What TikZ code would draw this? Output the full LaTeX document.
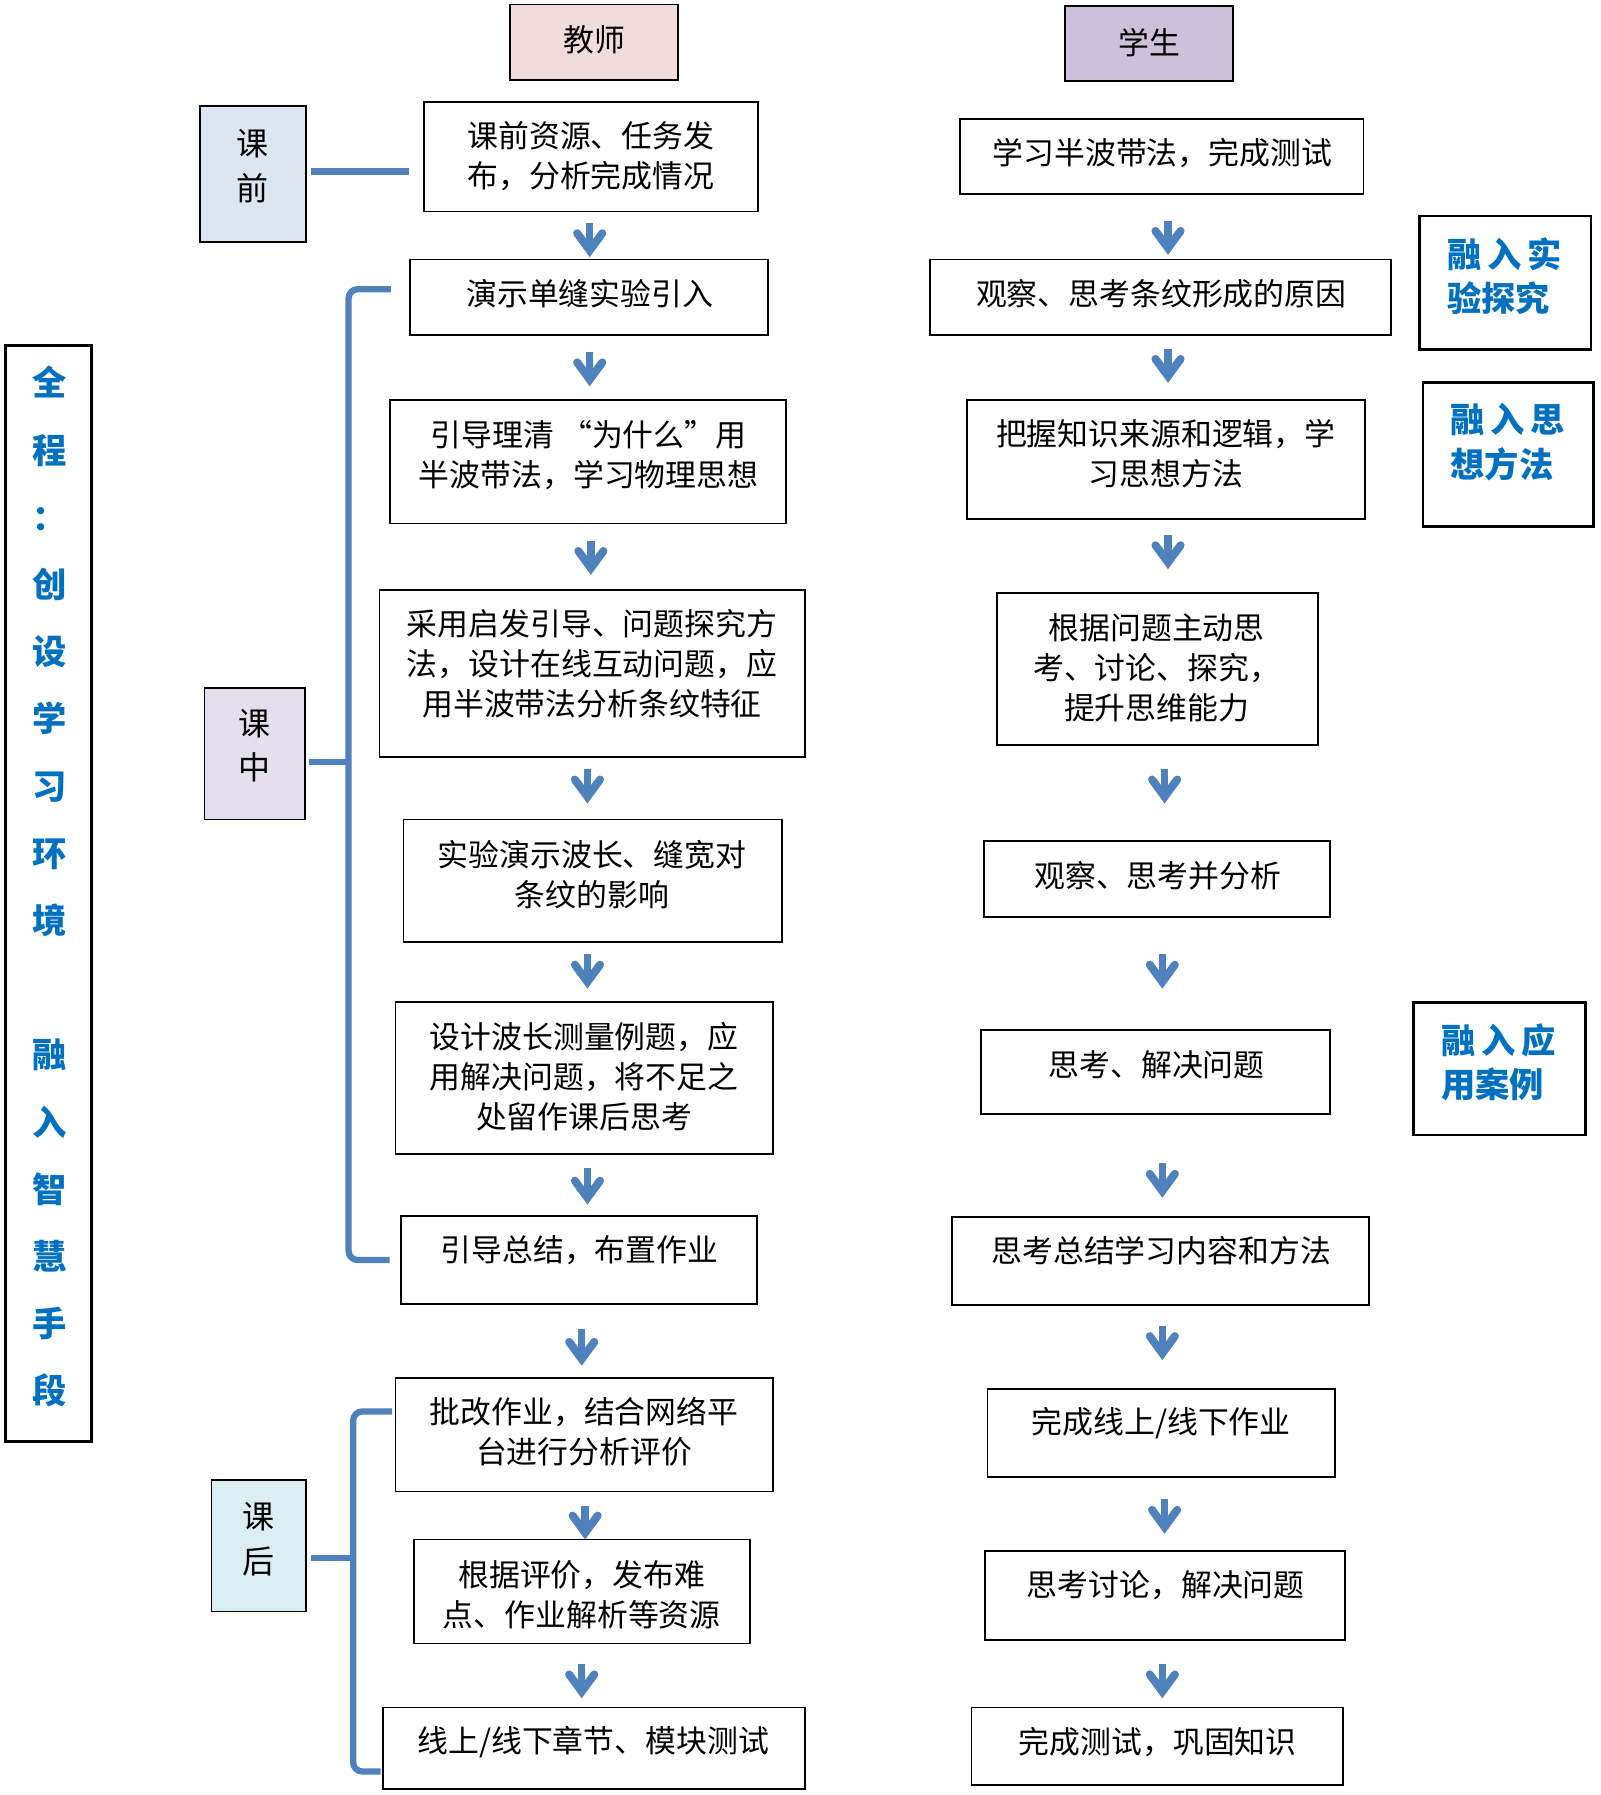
\documentclass[tikz,border=0pt]{standalone}
\usepackage{fontspec}
\setmainfont{Noto Sans CJK SC}
\usetikzlibrary{arrows.meta,calc}
\definecolor{arrowblue}{HTML}{4F81BD}
\definecolor{txtblue}{HTML}{0070C0}
\definecolor{pinkf}{HTML}{F2DCDB}
\definecolor{lavf}{HTML}{CCC0DA}
\definecolor{bluef}{HTML}{DCE6F1}
\definecolor{purf}{HTML}{E4DFEC}
\definecolor{cyanf}{HTML}{DAEEF3}
\tikzset{
  box/.style={draw=black, line width=1.6pt, inner sep=0pt, outer sep=0pt},
  sidebox/.style={draw=black, line width=2.4pt, inner sep=0pt, outer sep=0pt},
  txt/.style={font=\fontsize{27}{35}\selectfont, align=center, inner sep=0pt},
  hdr/.style={font=\fontsize{28}{39}\selectfont, align=center, inner sep=0pt},
  blu/.style={font=\fontsize{30}{39}\selectfont\bfseries, text=txtblue, align=left, inner sep=0pt, anchor=west},
  flow/.style={arrowblue, line width=6.5pt, -{Straight Barb[length=15pt,width=22pt,line width=7pt,line cap=round,line join=miter]}},
  brk/.style={arrowblue, line width=5.5pt},
}
\newcommand\bx[6]{\node[#6,minimum width={#4pt-#2pt},minimum height={#5pt-#3pt}] (#1) at ({(#2+#4)/2},{(#3+#5)/2}) {};}
\newcommand\flw[5]{\draw[flow, shorten >=#5pt] ([xshift=#3pt,yshift=-#4pt]#1.south) -- ([xshift=#3pt]#1.south |- #2.north);}
\begin{document}
\begin{tikzpicture}[x=1pt,y=-1pt]
\useasboundingbox (0,0) rectangle (1400,1570.6);
\fill[white] (0,0) rectangle (1400,1570.6);

% headers
\bx{js}{446}{4}{593}{70}{box,fill=pinkf}
\bx{xs}{932}{5}{1079}{71}{box,fill=lavf}
\node[txt] (jsl) at (520,35) {教师};
\node[txt] (xsl) at (1006,37) {学生};

% stage boxes
\bx{kq}{175}{93}{268}{212}{box,fill=bluef}
\bx{kz}{179}{602}{267}{717}{box,fill=purf}
\bx{kh}{185}{1295}{268}{1410}{box,fill=cyanf}
\node[hdr] (kql) at (221,145.5) {课\\前};
\node[hdr] (kzl) at (223,652.5) {课\\中};
\node[hdr] (khl) at (226,1346.5) {课\\后};

% teacher boxes
\bx{t1}{371}{89}{663}{185}{box}
\bx{t2}{359}{227}{672}{293}{box}
\bx{t3}{341}{350}{688}{458}{box}
\bx{t4}{332}{516}{704}{662}{box}
\bx{t5}{353}{717}{684}{824}{box}
\bx{t6}{346}{877}{676}{1010}{box}
\bx{t7}{351}{1064}{662}{1141}{box}
\bx{t8}{346}{1206}{676}{1305}{box}
\bx{t9}{362}{1347}{656}{1438}{box}
\bx{t10}{335}{1494}{704}{1565}{box}
\node[txt] (t1l) at (517,137) {课前资源、任务发\\布，分析完成情况};
\node[txt] (t2l) at (516,257) {演示单缝实验引入};
\node[txt] (t3l) at (515,398) {引导理清 “为什么”用\\半波带法，学习物理思想};
\node[txt] (t4l) at (518,581) {采用启发引导、问题探究方\\法，设计在线互动问题，应\\用半波带法分析条纹特征};
\node[txt] (t5l) at (518,765) {实验演示波长、缝宽对\\条纹的影响};
\node[txt] (t6l) at (511,942) {设计波长测量例题，应\\用解决问题，将不足之\\处留作课后思考};
\node[txt] (t7l) at (507,1094) {引导总结，布置作业};
\node[txt] (t8l) at (511,1253) {批改作业，结合网络平\\台进行分析评价};
\node[txt] (t9l) at (509,1395) {根据评价，发布难\\点、作业解析等资源};
\node[txt] (t10l) at (519,1524) {线上/线下章节、模块测试};

% student boxes
\bx{s1}{840}{104}{1193}{170}{box}
\bx{s2}{814}{227}{1217}{293}{box}
\bx{s3}{846}{350}{1194}{454}{box}
\bx{s4}{872}{519}{1153}{652}{box}
\bx{s5}{861}{736}{1164}{802}{box}
\bx{s6}{858}{901}{1164}{975}{box}
\bx{s7}{833}{1065}{1198}{1142}{box}
\bx{s8}{864}{1215}{1168}{1292}{box}
\bx{s9}{862}{1357}{1177}{1435}{box}
\bx{s10}{850}{1494}{1175}{1562}{box}
\node[txt] (s1l) at (1017,134) {学习半波带法，完成测试};
\node[txt] (s2l) at (1016,257) {观察、思考条纹形成的原因};
\node[txt] (s3l) at (1020,397) {把握知识来源和逻辑，学\\习思想方法};
\node[txt] (s4l) at (1012,584) {根据问题主动思\\考、讨论、探究，\\提升思维能力};
\node[txt] (s5l) at (1013,766) {观察、思考并分析};
\node[txt] (s6l) at (1012,932) {思考、解决问题};
\node[txt] (s7l) at (1016,1094) {思考总结学习内容和方法};
\node[txt] (s8l) at (1016,1245) {完成线上/线下作业};
\node[txt] (s9l) at (1020,1387) {思考讨论，解决问题};
\node[txt] (s10l) at (1013,1524) {完成测试，巩固知识};

% side boxes
\bx{r1}{1242}{189}{1392}{306}{sidebox}
\bx{r2}{1245}{335}{1394}{461}{sidebox}
\bx{r3}{1237}{877}{1387}{993}{sidebox}
\node[blu] (r1l) at (1266,241.5) {融\hspace{5pt}入\hspace{5pt}实\\验探究};
\node[blu] (r2l) at (1269,386.5) {融\hspace{5pt}入\hspace{5pt}思\\想方法};
\node[blu] (r3l) at (1261,929.5) {融\hspace{5pt}入\hspace{5pt}应\\用案例};

% left box
\bx{lb}{5}{302}{80}{1261}{sidebox}
\node[font=\fontsize{30}{58.8}\selectfont\bfseries, text=txtblue, align=center, inner sep=0pt] (lbl) at (43,776)
  {全\\程\\：\\创\\设\\学\\习\\环\\境\\\mbox{}\\融\\入\\智\\慧\\手\\段};

% teacher arrows
\flw{t1}{t2}{-1}{10}{2}
\flw{t2}{t3}{0.5}{15}{12}
\flw{t3}{t4}{2.5}{15}{13}
\flw{t4}{t5}{-4}{11}{14}
\flw{t5}{t6}{-4.5}{11}{12}
\flw{t6}{t7}{3}{12}{10}
\flw{t7}{t8}{2.5}{22}{11}
\flw{t8}{t9}{1}{13}{0}
\flw{t9}{t10}{0}{18}{8}

% student arrows
\flw{s1}{s2}{5.5}{23}{4}
\flw{s2}{s3}{6.5}{12}{15}
\flw{s3}{s4}{2}{14}{21}
\flw{s4}{s5}{6.5}{21}{33}
\flw{s5}{s6}{4.5}{33}{36}
\flw{s6}{s7}{6}{43}{17}
\flw{s7}{s8}{1.5}{18}{25}
\flw{s8}{s9}{3}{20}{15}
\flw{s9}{s10}{-2.5}{21}{8}

% brackets
\draw[brk, shorten <=4pt, shorten >=13pt] ([yshift=2.5pt]kq.east) -- ([yshift=2.5pt]kq.east -| t1.west);

\coordinate (kztop) at ($(t2.west)+(-54,-7)$);
\draw[brk, rounded corners=8pt] ($(t2.west)+(-17,-7)$) -- (kztop) -- ($(t7.west)+(-46,0)$) -- ($(t7.west)+(-10,0)$);
\draw[brk, shorten <=3pt] ([yshift=-7.5pt]kz.east) -- ([yshift=-7.5pt]kz.east -| kztop);

\coordinate (khtop) at ($(t8.west)+(-37,-20.5)$);
\draw[brk, rounded corners=8pt] ($(t8.west)+(-3,-20.5)$) -- (khtop) -- ($(t10.west)+(-26,20.5)$) -- ($(t10.west)+(-2,20.5)$);
\draw[brk, shorten <=4pt] ([yshift=-10.5pt]kh.east) -- ([yshift=-10.5pt]kh.east -| khtop);
\end{tikzpicture}
\end{document}
